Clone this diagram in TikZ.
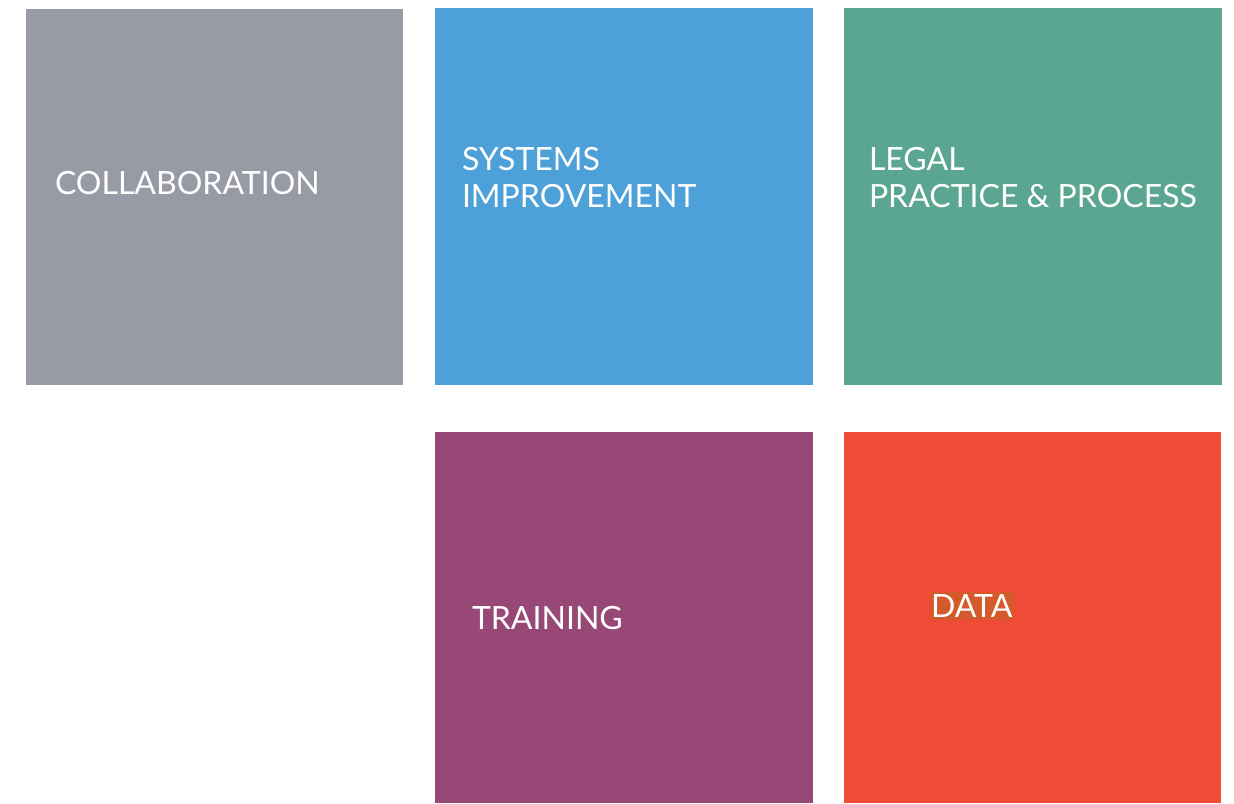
\documentclass[tikz,border=0pt]{standalone}
\usepackage{fontspec}
\setmainfont{Lato}
\usetikzlibrary{calc}

\definecolor{tileGray}{HTML}{989BA5}
\definecolor{tileBlue}{HTML}{4DA0D8}
\definecolor{tileGreen}{HTML}{5BA690}
\definecolor{tilePurple}{HTML}{974876}
\definecolor{tileRed}{HTML}{F04B37}
\definecolor{dataMark}{HTML}{D4592B}

\tikzset{
	tiletext/.style={outer sep=0pt, inner sep=0pt, anchor=base west, text=white, align=left, font=\fontsize{16}{18.5}\selectfont},
}

\begin{document}
\begin{tikzpicture}[x=0.5pt,y=-0.5pt]
		\useasboundingbox (0,0) rectangle (1234,803);
		
		% top row
		\fill[tileGray]  (26,9) rectangle (403,385);
		\fill[tileBlue]  (435,8) rectangle (813,385);
		\fill[tileGreen] (844,8) rectangle (1222,385);
		
		% bottom row
		\fill[tilePurple] (435,432) rectangle (813,803);
		\fill[tileRed]    (844,432) rectangle (1221,803);
		
		% labels (base of the last line)
		\node[tiletext] (collab) at (55,194.5) {COLLABORATION};
		\node[tiletext] (systems) at (462,207) {SYSTEMS\\IMPROVEMENT};
		\node[tiletext] (legal) at (869,207) {LEGAL\\PRACTICE \& PROCESS};
		\node[tiletext] (training) at (472,629) {TRAINING};
		
		\fill[dataMark] (930,592) rectangle (1014,620);
		\node[tiletext] (data) at (931,617) {DATA};
		
	\end{tikzpicture}
\end{document}
